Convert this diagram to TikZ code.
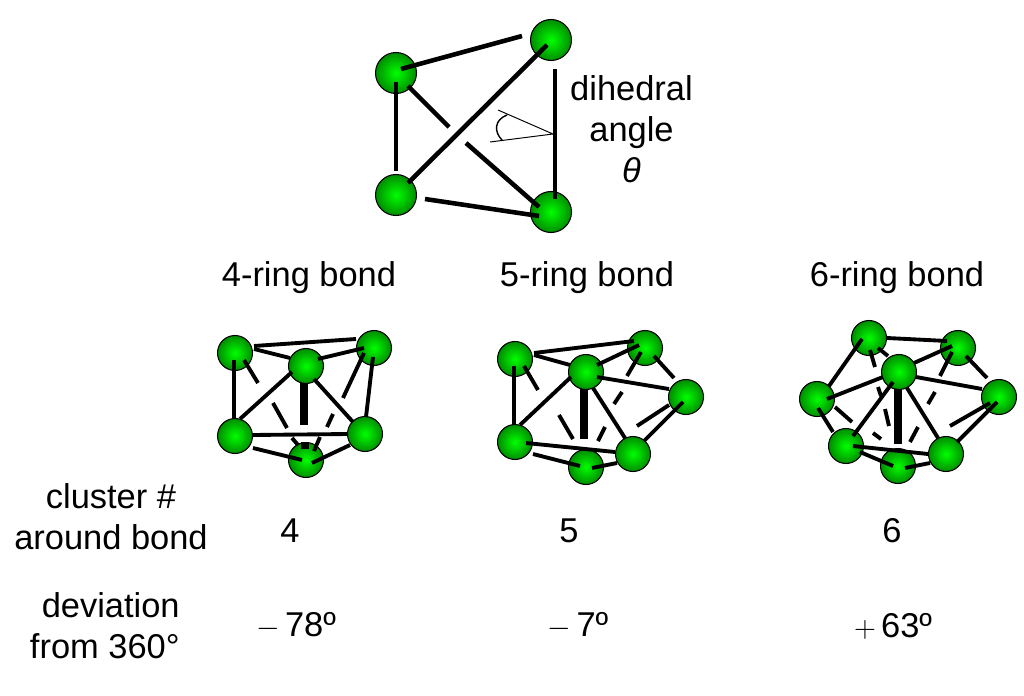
\documentclass[tikz,border=0pt]{standalone}
\usepackage{fontspec}
\setmainfont{Liberation Sans}
\usetikzlibrary{calc}
\tikzset{
  atom/.style={circle,draw=black,line width=0.6pt,inner sep=0pt,minimum size=35\unitpx,shading=radial,inner color=green,outer color=green!55!black},
  bigatom/.style={atom,minimum size=41\unitpx},
  bond/.style={line width=2.2pt},
  topbond/.style={line width=2.6pt},
  axis/.style={line width=4pt},
  thin line/.style={line width=0.55pt},
  lbl/.style={inner sep=0pt,align=center,font=\fontsize{19.6}{23.4}\selectfont}
}
\newcommand{\unitpx}{*0.02cm}
\newcommand{\opsign}[1]{{\fontsize{17.28}{20}\selectfont$#1$}}
\begin{document}
\begin{tikzpicture}[x=0.02cm,y=-0.02cm]
\useasboundingbox (0,0) rectangle (1024,696);

% top
\node[bigatom] (A) at (396,73) {};
\node[bigatom] (B) at (551,40) {};
\node[bigatom] (C) at (396,195) {};
\node[bigatom] (D) at (551,212) {};
\coordinate (t1) at (449,127);
\coordinate (t2) at (466,143);
\draw[topbond] ($(A)+(5,-4)$) -- ($(B)+(-29,-4)$);
\draw[topbond] ($(B)+(-4,5)$) -- ($(C)+(12,-12)$);
\draw[topbond] ($(A)+(0,9)$) -- ($(C)+(0,-24)$);
\draw[topbond] ($(A)+(12,13)$) -- (t1);
\draw[topbond] (t2) -- ($(D)+(-12,-5)$);
\draw[topbond] ($(C)+(29,4)$) -- ($(D)+(-12,4)$);
\draw[topbond] ($(B)+(4,29)$) -- ($(D)+(4,-13)$);

\coordinate (v) at (553,134);
\coordinate (u1) at (498,110);
\coordinate (u2) at (490,142);
\coordinate (w1) at (507,115);
\coordinate (w2) at (502,140);
\draw[thin line] (u1) -- (v) -- (u2);
\draw[line width=0.8pt] (w1) .. controls (494,120) and (494,132) .. (w2);

\node[lbl] (dih) at (631.5,129) {dihedral\\[-0.2pt]angle\\[-0.2pt]\textit{θ}};

% labels
\node[lbl] (l4) at (309,278) {4-ring bond};
\node[lbl] (l5) at (587,278) {5-ring bond};
\node[lbl] (l6) at (897,278) {6-ring bond};

% 4-ring
\node[atom] (a1) at (235,353) {};
\node[atom] (a2) at (306,366) {};
\node[atom] (a3) at (374,348) {};
\node[atom] (a4) at (235,436) {};
\node[atom] (a5) at (365,434) {};
\node[atom] (a6) at (306,460) {};
\coordinate (p1) at (258,383);
\coordinate (p2) at (343,398);
\coordinate (p3) at (273,403);
\coordinate (p4) at (287,428);
\coordinate (p5) at (333,414);
\coordinate (p6) at (327,427);
\draw[bond] ($(a1)+(19,-7)$) -- ($(a3)+(-18,-9)$);
\draw[bond] ($(a1)+(19,-4)$) -- ($(a2)+(-16,-8)$);
\draw[bond] ($(a2)+(12,-7)$) -- ($(a3)+(-10,0)$);
\draw[bond] ($(a1)+(-1,7)$) -- ($(a4)+(-1,-18)$);
\draw[bond] ($(a1)+(9,7)$) -- (p1);
\draw[bond] ($(a2)+(-14,6)$) -- ($(a4)+(5,-17)$);
\draw[axis] ($(a2)+(-2,17)$) -- ($(a6)+(-2,-35)$);
\draw[bond] ($(a2)+(8,13)$) -- ($(a5)+(-12,-12)$);
\draw[bond] ($(a3)+(-10,5)$) -- (p2);
\draw[bond] ($(a3)+(-1,9)$) -- ($(a5)+(1,-17)$);
\draw[bond] (p3) -- (p4);
\draw[bond] (p5) -- (p6);
\draw[bond] ($(a4)+(18,-1)$) -- ($(a5)+(-17,0)$);
\draw[bond] ($(a4)+(18,12)$) -- ($(a6)+(-4,0)$);
\draw[bond] ($(a5)+(-15,11)$) -- ($(a6)+(6,3)$);
\draw[bond] ($(a6)+(-14,-22)$) -- ($(a6)+(-8,-15)$);
\draw[axis] ($(a6)+(-1,-18)$) -- ($(a6)+(-1,-11)$);
\draw[bond] ($(a6)+(14,-23)$) -- ($(a6)+(8,-9)$);

% 5-ring
\node[atom] (b1) at (515,359) {};
\node[atom] (b2) at (586,372) {};
\node[atom] (b3) at (645,348) {};
\node[atom] (b4) at (686,397) {};
\node[atom] (b5) at (515,442) {};
\node[atom] (b6) at (586,467) {};
\node[atom] (b7) at (633,454) {};
\coordinate (q1) at (627,376);
\coordinate (q2) at (622,392);
\coordinate (q3) at (614,404);
\coordinate (q4) at (538,390);
\coordinate (q5) at (637,426);
\coordinate (q6) at (559,415);
\coordinate (q7) at (573,439);
\coordinate (q8) at (605,427);
\coordinate (q9) at (598,441);
\draw[bond] ($(b1)+(19,-6)$) -- ($(b3)+(-11,-7)$);
\draw[bond] ($(b1)+(19,-4)$) -- ($(b2)+(-16,-7)$);
\draw[bond] ($(b2)+(11,-7)$) -- ($(b3)+(-6,-3)$);
\draw[bond] ($(b3)+(9,8)$) -- ($(b4)+(-12,-19)$);
\draw[bond] ($(b2)+(11,5)$) -- ($(b4)+(-17,-8)$);
\draw[bond] ($(b3)+(-4,4)$) -- (q1);
\draw[bond] (q2) -- (q3);
\draw[bond] ($(b1)+(-1,7)$) -- ($(b5)+(-1,-17)$);
\draw[bond] ($(b1)+(9,7)$) -- (q4);
\draw[bond] ($(b2)+(-15,5)$) -- ($(b5)+(5,-17)$);
\draw[axis] ($(b2)+(-2,17)$) -- ($(b6)+(-2,-28)$);
\draw[bond] ($(b2)+(7,16)$) -- ($(b7)+(-8,-16)$);
\draw[bond] ($(b4)+(-3,5)$) -- ($(b7)+(11,-13)$);
\draw[bond] ($(b4)+(-17,8)$) -- (q5);
\draw[bond] (q6) -- (q7);
\draw[bond] (q8) -- (q9);
\draw[bond] ($(b5)+(11,1)$) -- ($(b7)+(-18,-2)$);
\draw[bond] ($(b5)+(18,12)$) -- ($(b6)+(-6,-1)$);
\draw[bond] ($(b6)+(6,1)$) -- ($(b7)+(-16,9)$);

% 6-ring
\node[atom] (c1) at (869,338) {};
\node[atom] (c2) at (958,348) {};
\node[atom] (c3) at (899,372) {};
\node[atom] (c4) at (817,399) {};
\node[atom] (c5) at (999,397) {};
\node[atom] (c6) at (846,446) {};
\node[atom] (c7) at (946,454) {};
\node[atom] (c8) at (898,466) {};
\coordinate (r1) at (875,367);
\coordinate (r2) at (878,387);
\coordinate (r3) at (881,396);
\coordinate (r4) at (885,409);
\coordinate (r5) at (889,426);
\coordinate (r6) at (873,433);
\coordinate (r7) at (881,439);
\coordinate (r8) at (852,422);
\coordinate (r9) at (940,376);
\coordinate (r10) at (935,392);
\coordinate (r11) at (928,404);
\coordinate (r12) at (950,426);
\coordinate (r13) at (918,427);
\coordinate (r14) at (910,442);
\draw[bond] ($(c1)+(18,0)$) -- ($(c2)+(-11,-7)$);
\draw[bond] ($(c1)+(-7,1)$) -- ($(c4)+(12,-13)$);
\draw[bond] ($(c1)+(9,10)$) -- ($(c3)+(-11,-16)$);
\draw[bond] ($(c1)+(1,12)$) -- (r1);
\draw[bond] (r2) -- (r3);
\draw[bond] (r4) -- (r5);
\draw[bond] (r6) -- (r7);
\draw[bond] ($(c4)+(18,8)$) -- (r8);
\draw[bond] ($(c4)+(1,9)$) -- ($(c6)+(-13,-14)$);
\draw[bond] ($(c4)+(10,0)$) -- ($(c3)+(-16,5)$);
\draw[bond] ($(c3)+(-6,10)$) -- ($(c6)+(7,-10)$);
\draw[bond] ($(c3)+(15,-9)$) -- ($(c2)+(-6,-2)$);
\draw[bond] ($(c2)+(-6,4)$) -- (r9);
\draw[bond] ($(c2)+(8,8)$) -- ($(c5)+(-12,-19)$);
\draw[bond] ($(c3)+(17,5)$) -- ($(c5)+(-17,-8)$);
\draw[bond] (r10) -- (r11);
\draw[bond] ($(c5)+(-2,5)$) -- ($(c7)+(11,-12)$);
\draw[bond] ($(c5)+(-9,6)$) -- (r12);
\draw[axis] ($(c3)+(-1,17)$) -- ($(c8)+(0,-22)$);
\draw[bond] ($(c3)+(8,16)$) -- ($(c7)+(-8,-16)$);
\draw[bond] (r13) -- (r14);
\draw[bond] ($(c6)+(7,0)$) -- ($(c7)+(-18,0)$);
\draw[bond] ($(c6)+(14,6)$) -- ($(c8)+(-5,0)$);
\draw[bond] ($(c8)+(7,2)$) -- ($(c7)+(-16,9)$);

% table
\node[lbl] (cl) at (111,517) {cluster \#\\around bond};
\node[lbl] (n4) at (290,531) {4};
\node[lbl] (n5) at (569,531) {5};
\node[lbl] (n6) at (892,531) {6};
\node[lbl,align=right,anchor=east] (dv) at (180,626) {deviation\\from 360°};
\node[lbl] (d4) at (296,626) {\opsign{-}\hspace{3pt}78º};
\node[lbl] (d5) at (578,626) {\opsign{-}\hspace{3pt}7º};
\node[lbl] (d6) at (893,626) {\opsign{+}\hspace{3pt}63º};
\end{tikzpicture}
\end{document}
